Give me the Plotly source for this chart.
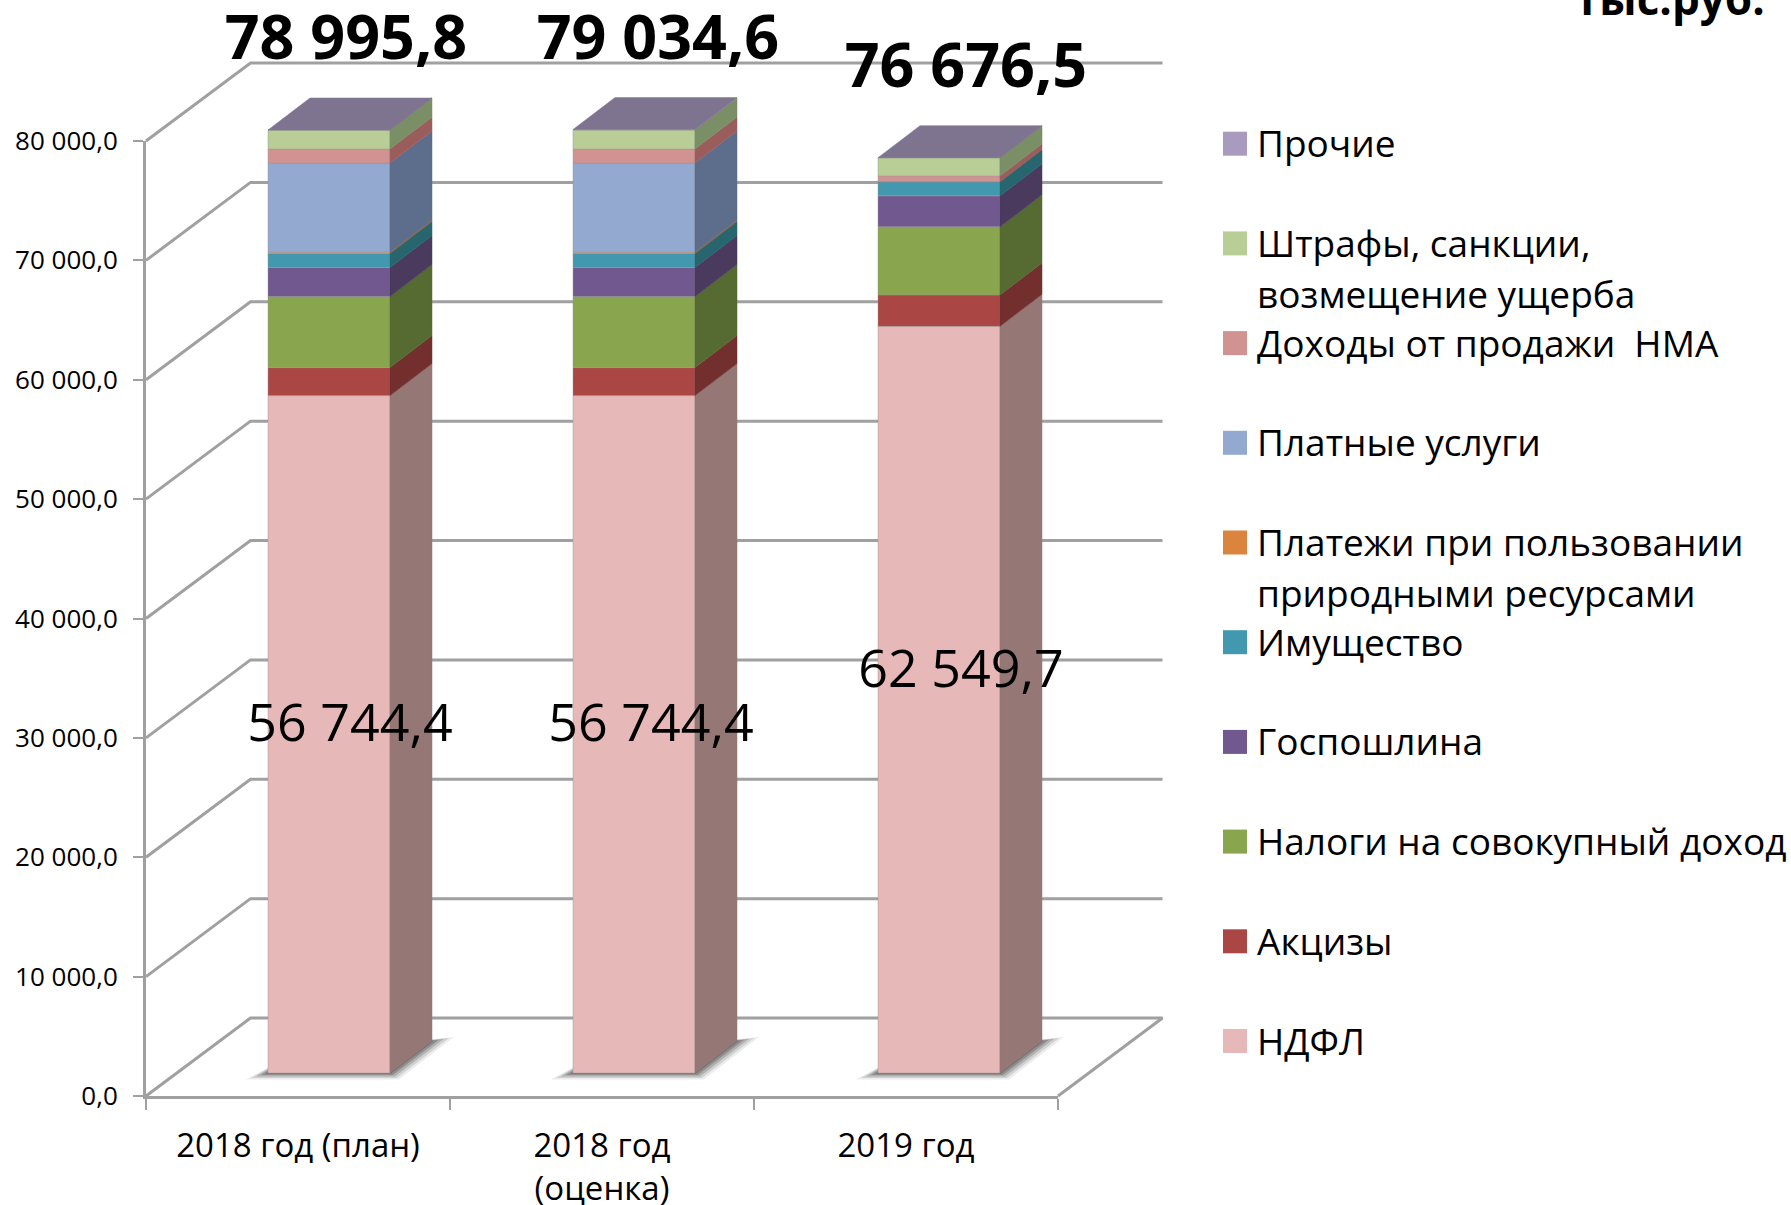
import plotly.graph_objects as go

# ---- data ----
categories = ["2018 год (план)", "2018 год<br>(оценка)", "2019 год"]
totals = [78995.8, 79034.6, 76676.5]
ndfl = [56744.4, 56744.4, 62549.7]
akcizy = [2348, 2348, 2630]
nalogi = [5950, 5950, 5700]
gosposhlina = [2430, 2430, 2600]
imushchestvo = [1170, 1170, 1175]
platezhi = [110, 110, 15]
platnye = [7470, 7470, 15]
nma = [1175, 1175, 470]
shtrafy = [1590, 1590, 1520]
prochie = [8.4, 47.2, 1.8]

series_names = ["НДФЛ", "Акцизы", "Налоги на совокупный доход", "Госпошлина", "Имущество",
                "Платежи при пользовании природными ресурсами", "Платные услуги",
                "Доходы от продажи  НМА", "Штрафы, санкции, возмещение ущерба", "Прочие"]
series_values = [ndfl, akcizy, nalogi, gosposhlina, imushchestvo, platezhi, platnye, nma, shtrafy, prochie]
legend_labels = ["НДФЛ", "Акцизы", "Налоги на совокупный доход", "Госпошлина", "Имущество",
                 "Платежи при пользовании<br>природными ресурсами", "Платные услуги",
                 "Доходы от продажи  НМА", "Штрафы, санкции,<br>возмещение ущерба", "Прочие"]
front_colors = ["#E6B9B8", "#AA4643", "#89A54E", "#71588F", "#4198AF", "#DB843D", "#93A9CF", "#D19392", "#B9CD96", "#A99BBD"]
side_colors = ["#957776", "#722F2D", "#566B31", "#4A3A5E", "#27656F", "#93592A", "#5C6E8C", "#9B5C5C", "#7A8F66", "#7F7490"]
top_color = "#7F7490"
unit_label = "тыс.руб."

# ---- geometry (pixels of the page → axis units) ----
W, H = 1791, 1205
PX_L, PX_R, PX_T, PX_B = 146, 1058, 141, 1096
YMAX = 80000
ux = (PX_R - PX_L) / 3
uy = (PX_B - PX_T) / YMAX
def dxu(px): return px / ux
def dyu(px): return px / uy
def px2paper_x(px): return px / W
def px2paper_y(py): return (H - py) / H

WALL_DX, WALL_DY = dxu(104.5), dyu(78)
BAR_DX, BAR_DY = dxu(42), dyu(32)
BAR_BASE = dyu(23)
BAR_W = 122 / ux
centers = [183 / ux + i * 305 / ux for i in range(3)]
GRID = "#A0A0A0"
FONT = "Open Sans"

fig = go.Figure()

# invisible trace that brings up the front axes
fig.add_trace(go.Scatter(x=[0], y=[0], mode="markers", marker=dict(opacity=0), showlegend=False, hoverinfo="skip"))

# back wall gridlines and floor (canvas axes, below the bars)
for v in range(10000, YMAX + 1, 10000):
    fig.add_trace(go.Scatter(x=[0, WALL_DX, 3 + WALL_DX], y=[v, v + WALL_DY, v + WALL_DY], mode="lines",
                             xaxis="x2", yaxis="y2",
                             line=dict(color=GRID, width=3), showlegend=False, hoverinfo="skip"))
fig.add_trace(go.Scatter(x=[0, WALL_DX, 3 + WALL_DX, 3], y=[0, WALL_DY, WALL_DY, 0], mode="lines",
                         xaxis="x2", yaxis="y2",
                         line=dict(color=GRID, width=3), showlegend=False, hoverinfo="skip"))

# floor shadows
for grow, alpha in [(1.1, 0.10), (0.85, 0.16), (0.6, 0.24), (0.35, 0.32), (0.12, 0.36)]:
    xs, ys = [], []
    for c in centers:
        l, r = c - BAR_W / 2, c + BAR_W / 2
        gx, gy = dxu(20 * grow), dyu(6 * grow)
        xs += [l - gx, l + BAR_DX * .6, r + BAR_DX + gx, r + gx * .4, l - gx, None]
        ys += [BAR_BASE - gy, BAR_BASE + BAR_DY * .6, BAR_BASE + BAR_DY + gy * .6, BAR_BASE - gy, BAR_BASE - gy, None]
    fig.add_trace(go.Scatter(x=xs, y=ys, mode="lines", fill="toself", xaxis="x2", yaxis="y2",
                             line=dict(width=0, color="rgba(0,0,0,0)"),
                             fillcolor=f"rgba(70,70,70,{alpha})", showlegend=False, hoverinfo="skip"))

# stacked bars: front faces + side faces (overlay axes, so above the walls)
cum = [BAR_BASE] * 3
for name, vals, fc, sc in zip(series_names, series_values, front_colors, side_colors):
    fig.add_trace(go.Bar(x=centers, y=vals, base=list(cum), width=BAR_W, name=name, xaxis="x3", yaxis="y3",
                         marker=dict(color=fc, line=dict(color="rgba(150,150,150,0.55)", width=0.8)),
                         showlegend=False))
    xs, ys = [], []
    for c, b, v in zip(centers, cum, vals):
        r = c + BAR_W / 2
        xs += [r, r + BAR_DX, r + BAR_DX, r, r, None]
        ys += [b, b + BAR_DY, b + v + BAR_DY, b + v, b, None]
    fig.add_trace(go.Scatter(x=xs, y=ys, mode="lines", fill="toself", xaxis="x3", yaxis="y3",
                             line=dict(width=0.5, color=sc), fillcolor=sc,
                             showlegend=False, hoverinfo="skip"))
    cum = [b + v for b, v in zip(cum, vals)]

xs, ys = [], []
for c, t in zip(centers, cum):
    l, r = c - BAR_W / 2, c + BAR_W / 2
    xs += [l, l + BAR_DX, r + BAR_DX, r, l, None]
    ys += [t, t + BAR_DY, t + BAR_DY, t, t, None]
fig.add_trace(go.Scatter(x=xs, y=ys, mode="lines", fill="toself", xaxis="x3", yaxis="y3",
                         line=dict(width=0.5, color=top_color), fillcolor=top_color,
                         showlegend=False, hoverinfo="skip"))

def fmt(v):
    s = f"{v:,.1f}"
    return s.replace(",", " ").replace(".", ",")

# total labels
fig.add_trace(go.Scatter(x=[c + dxu(o) for c, o in zip(centers, [17, 24, 27])],
                         y=[BAR_BASE + t + dyu(86) for t in totals],
                         text=[fmt(t) for t in totals], mode="text", xaxis="x3", yaxis="y3",
                         textfont=dict(family=FONT, size=61, color="black", weight="bold"),
                         showlegend=False, hoverinfo="skip"))
# NDFL labels
fig.add_trace(go.Scatter(x=[c + dxu(o) for c, o in zip(centers, [21, 17, 22])],
                         y=[BAR_BASE + v / 2 + dyu(o) for v, o in zip(ndfl, [6, 6, 26])],
                         text=[fmt(v) for v in ndfl], mode="text", xaxis="x3", yaxis="y3",
                         textfont=dict(family=FONT, size=52, color="black"),
                         showlegend=False, hoverinfo="skip"))

# legend drawn by hand to keep the reference's irregular spacing
shapes, annotations = [], []
legend_x, text_x, first_y, step, line_gap = 1223, 1256, 1041, 99.7, 51
for i, (lab, col) in enumerate(zip(legend_labels, front_colors)):
    cy = first_y - i * step
    shapes.append(dict(type="rect", xref="paper", yref="paper", x0=px2paper_x(legend_x), x1=px2paper_x(legend_x + 24),
                       y0=px2paper_y(cy + 12), y1=px2paper_y(cy - 12), fillcolor=col, line=dict(width=0)))
    for j, part in enumerate(lab.split("<br>")):
        annotations.append(dict(xref="paper", yref="paper", x=px2paper_x(text_x), y=px2paper_y(cy + j * line_gap - 1),
                                xanchor="left", yanchor="middle", text=part, showarrow=False, align="left", borderpad=0,
                                font=dict(family=FONT, size=37, color="black")))
annotations.append(dict(xref="paper", yref="paper", x=px2paper_x(1767), y=px2paper_y(-2), xanchor="right", yanchor="middle",
                        text=f"<b>{unit_label}</b>", showarrow=False, font=dict(family=FONT, size=44, color="black")))

canvas_x = [-PX_L / ux, (W - PX_L) / ux]
canvas_y = [-(H - PX_B) / uy, PX_B / uy]

fig.update_layout(
    width=W, height=H, autosize=False, showlegend=False, separators=", ",
    paper_bgcolor="white", plot_bgcolor="rgba(0,0,0,0)", barmode="overlay",
    margin=dict(l=0, r=0, t=0, b=0, pad=0),
    font=dict(family=FONT, color="black"),
    shapes=shapes, annotations=annotations,
    xaxis=dict(domain=[PX_L / W, PX_R / W], range=[0, 3], automargin=False, anchor="y",
               tickmode="array", tickvals=[0.5, 1.5, 2.5], ticktext=categories, ticks="",
               showgrid=False, zeroline=False, showline=True, linecolor=GRID, linewidth=3,
               tickfont=dict(family=FONT, size=33, color="black"), ticklabelstandoff=18,
               minor=dict(tickmode="array", tickvals=[0, 1, 2, 3], ticks="outside", ticklen=11, tickcolor=GRID, tickwidth=1.5)),
    yaxis=dict(domain=[(H - PX_B) / H, (H - PX_T) / H], range=[0, YMAX], automargin=False, anchor="x",
               dtick=10000, tick0=0, tickformat=",.1f", ticks="outside", ticklen=10, tickwidth=1.5,
               tickcolor=GRID, showgrid=False, zeroline=False, showline=True, linecolor=GRID, linewidth=3,
               tickfont=dict(family=FONT, size=26, color="black"), ticklabelstandoff=10),
    xaxis2=dict(domain=[0, 1], range=canvas_x, visible=False, anchor="y2", automargin=False),
    yaxis2=dict(domain=[0, 1], range=canvas_y, visible=False, anchor="x2", automargin=False),
    xaxis3=dict(domain=[0, 1], range=canvas_x, visible=False, anchor="y3", overlaying="x2", automargin=False),
    yaxis3=dict(domain=[0, 1], range=canvas_y, visible=False, anchor="x3", overlaying="y2", automargin=False),
)
fig.write_html("out.html", config=dict(displayModeBar=False),
               post_script="document.body.style.margin='0';document.documentElement.style.overflow='hidden';")
